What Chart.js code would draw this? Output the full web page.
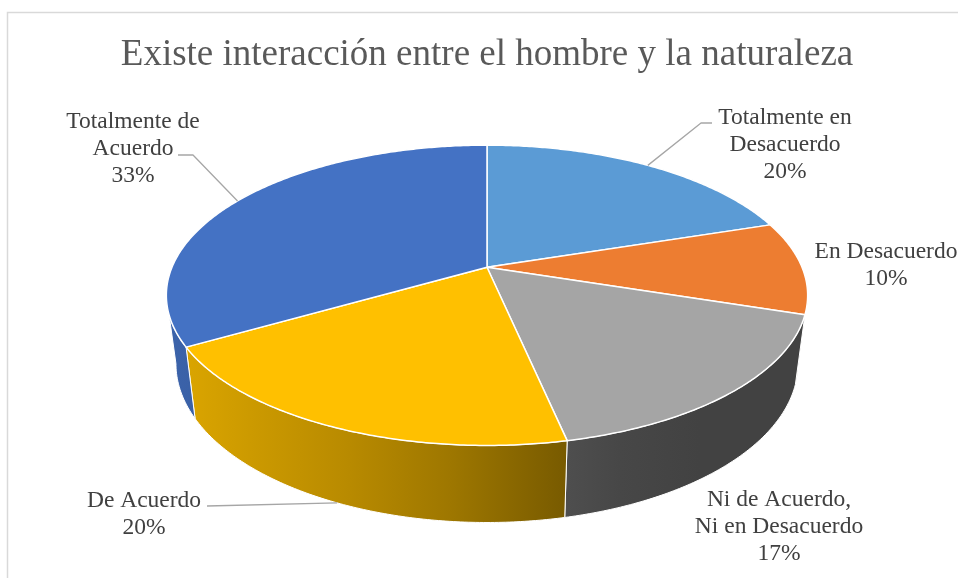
<!DOCTYPE html>
<html>
<head>
<meta charset="utf-8">
<title>Existe interacción entre el hombre y la naturaleza</title>
<script src="https://cdn.jsdelivr.net/npm/chart.js@4.4.1/dist/chart.umd.min.js"></script>
<style>
  html, body { margin: 0; padding: 0; background: #fff; }
  #wrap { position: relative; width: 958px; height: 578px; }
</style>
</head>
<body>
<div id="wrap"><canvas id="chart"></canvas></div>
<script>
// data (30 answers -> 20%, 10%, 17%, 20%, 33%)
const categories = [
  ['Totalmente en', 'Desacuerdo'],
  ['En Desacuerdo'],
  ['Ni de Acuerdo,', 'Ni en Desacuerdo'],
  ['De Acuerdo'],
  ['Totalmente de', 'Acuerdo']
];
const responses = [6, 3, 5, 6, 10];
const sliceColors = ['#5B9BD5', '#ED7D31', '#A5A5A5', '#FFC000', '#4472C4'];
const chartTitle = 'Existe interacción entre el hombre y la naturaleza';

// 3d look
const TILT = 0.46;        // vertical squash of the top face
const PERSP = 0.187;      // front of the pie is nearer -> bigger
const DEPTH = 67;         // wall height
const BOTTOM_SCALE = 0.97;
const SERIF = "'Liberation Serif', 'Times New Roman', serif";

// where the data labels sit
const labelSpots = [
  { x: 785, y: 124, leader: [[712, 123], [701, 123]] },
  { x: 886, y: 258, leader: null },
  { x: 779, y: 506, leader: null },
  { x: 144, y: 507, leader: [[207, 506]] },
  { x: 133, y: 128, leader: [[178, 155], [193, 155]] }
];

// wall lighting, darker to the right
const shadeStops = [[160, 0.88], [250, 0.80], [350, 0.72], [450, 0.62], [560, 0.48], [620, 0.43], [700, 0.40], [820, 0.40]];

function scaleColor(hex, f) {
  const n = parseInt(hex.slice(1), 16);
  const r = Math.round(((n >> 16) & 255) * f);
  const g = Math.round(((n >> 8) & 255) * f);
  const b = Math.round((n & 255) * f);
  return `rgb(${r},${g},${b})`;
}

function wallFill(ctx, hex) {
  const g = ctx.createLinearGradient(160, 0, 820, 0);
  shadeStops.forEach(([x, f]) => g.addColorStop((x - 160) / 660, scaleColor(hex, f)));
  return g;
}

function pt(arc, a, bottom) {
  const s = bottom ? BOTTOM_SCALE : 1;
  const v = Math.sin(a);
  const w = 1 - PERSP * v;
  const r = arc.outerRadius * s;
  return [arc.x + r * Math.cos(a) / w, arc.y + (r * TILT * v + (bottom ? DEPTH : 0)) / w];
}

function angles(s, e) {
  const out = [];
  const n = Math.max(2, Math.ceil((e - s) / 0.01));
  for (let i = 0; i <= n; i++) out.push(s + (e - s) * i / n);
  return out;
}

const pie3d = {
  id: 'pie3d',
  beforeDraw(chart) {
    const ctx = chart.ctx;
    ctx.save();
    ctx.strokeStyle = '#D9D9D9';
    ctx.lineWidth = 1.5;
    ctx.beginPath();
    ctx.moveTo(7.5, chart.height);
    ctx.lineTo(7.5, 12.5);
    ctx.lineTo(chart.width, 12.5);
    ctx.stroke();
    ctx.restore();
  },
  beforeDatasetsDraw(chart) {
    const ctx = chart.ctx;
    const arcs = chart.getDatasetMeta(0).data;
    const ds = chart.data.datasets[0];
    const lo = Math.asin(PERSP), hi = Math.PI - lo;
    ctx.save();
    ctx.lineJoin = 'round';

    // outer walls (front half only)
    arcs.forEach((arc, i) => {
      const s = Math.max(arc.startAngle, lo);
      const e = Math.min(arc.endAngle, hi);
      if (e <= s) return;
      const list = angles(s, e);
      ctx.beginPath();
      list.forEach((a, j) => {
        const p = pt(arc, a, false);
        if (j) ctx.lineTo(p[0], p[1]); else ctx.moveTo(p[0], p[1]);
      });
      list.slice().reverse().forEach(a => {
        const p = pt(arc, a, true);
        ctx.lineTo(p[0], p[1]);
      });
      ctx.closePath();
      ctx.fillStyle = wallFill(ctx, ds.backgroundColor[i]);
      ctx.fill();
      ctx.strokeStyle = '#ffffff';
      ctx.lineWidth = 1;
      ctx.stroke();
    });

    // top faces
    arcs.forEach((arc, i) => {
      ctx.beginPath();
      ctx.moveTo(arc.x, arc.y);
      angles(arc.startAngle, arc.endAngle).forEach(a => {
        const p = pt(arc, a, false);
        ctx.lineTo(p[0], p[1]);
      });
      ctx.closePath();
      ctx.fillStyle = ds.backgroundColor[i];
      ctx.fill();
      ctx.strokeStyle = '#ffffff';
      ctx.lineWidth = 1.5;
      ctx.stroke();
    });

    // labels with leader lines
    const total = ds.data.reduce((a, b) => a + b, 0);
    arcs.forEach((arc, i) => {
      const spot = labelSpots[i];
      if (spot.leader) {
        const mid = (arc.startAngle + arc.endAngle) / 2;
        const end = pt(arc, mid, Math.sin(mid) > 0.3);
        ctx.beginPath();
        ctx.moveTo(spot.leader[0][0], spot.leader[0][1]);
        spot.leader.slice(1).forEach(p => ctx.lineTo(p[0], p[1]));
        ctx.lineTo(end[0], end[1]);
        ctx.strokeStyle = '#A6A6A6';
        ctx.lineWidth = 1.3;
        ctx.stroke();
      }
      const lines = [].concat(chart.data.labels[i], Math.round(ds.data[i] / total * 100) + '%');
      ctx.fillStyle = '#404040';
      ctx.font = `23.5px ${SERIF}`;
      ctx.textAlign = 'center';
      ctx.textBaseline = 'alphabetic';
      lines.forEach((t, j) => ctx.fillText(t, spot.x, spot.y + j * 27));
    });

    ctx.restore();
    return false;
  }
};

new Chart(document.getElementById('chart'), {
  type: 'pie',
  data: {
    labels: categories,
    datasets: [{
      data: responses,
      backgroundColor: sliceColors,
      borderWidth: 0,
      radius: 315
    }]
  },
  options: {
    responsive: true,
    maintainAspectRatio: false,
    animation: false,
    layout: { padding: { left: 16, right: 0, top: 0, bottom: 131 } },
    plugins: {
      legend: { display: false },
      tooltip: { enabled: false },
      title: {
        display: true,
        text: chartTitle,
        color: '#595959',
        font: { family: SERIF, size: 37, weight: 'normal' },
        padding: { top: 33, bottom: 10 }
      }
    }
  },
  plugins: [pie3d]
});
</script>
</body>
</html>
